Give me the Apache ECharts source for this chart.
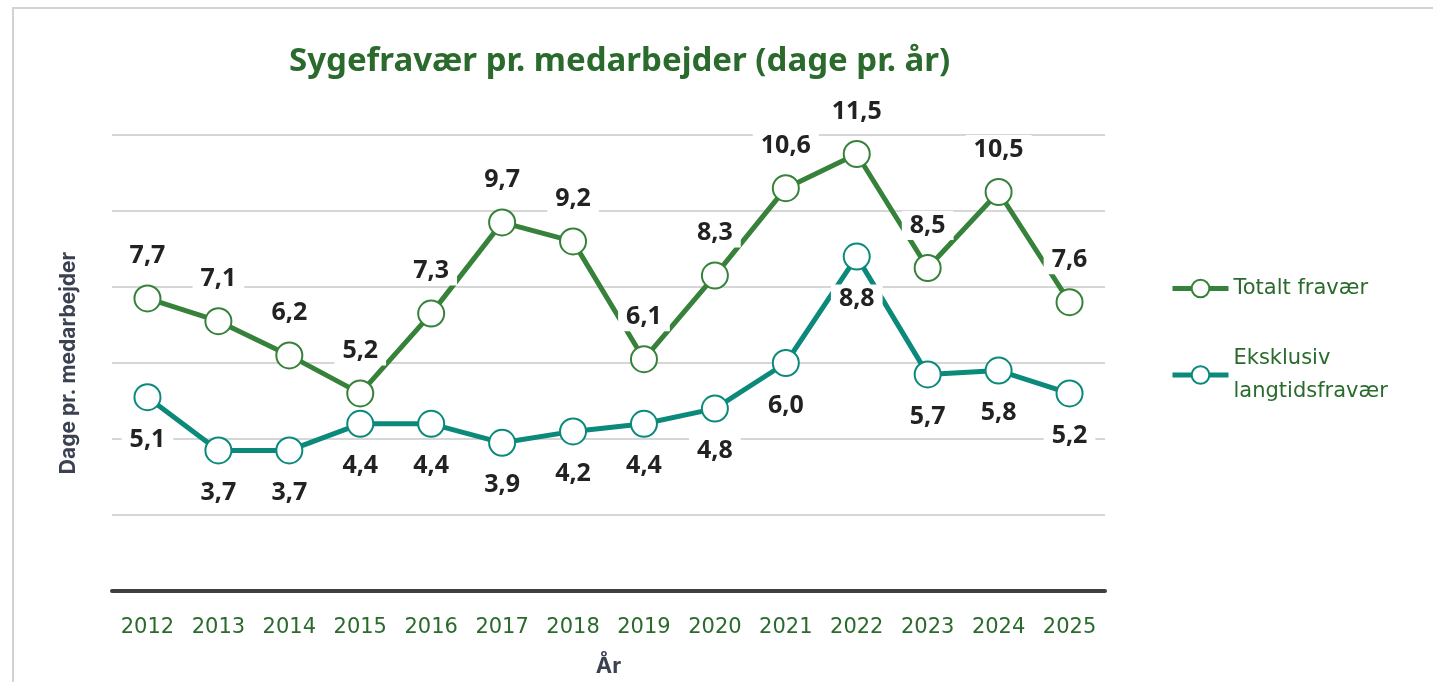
<!DOCTYPE html>
<html>
<head>
<meta charset="utf-8">
<script src="https://cdn.jsdelivr.net/npm/echarts@6/dist/echarts.min.js"></script>
<style>
  html, body { margin: 0; padding: 0; background: #fff; }
  #chart { width: 1433px; height: 682px; }
</style>
</head>
<body>
<div id="chart"></div>
<script>
const years = ['2012', '2013', '2014', '2015', '2016', '2017', '2018', '2019', '2020', '2021', '2022', '2023', '2024', '2025'];
const totalt = [7.7, 7.1, 6.2, 5.2, 7.3, 9.7, 9.2, 6.1, 8.3, 10.6, 11.5, 8.5, 10.5, 7.6];
const eksklusiv = [5.1, 3.7, 3.7, 4.4, 4.4, 3.9, 4.2, 4.4, 4.8, 6.0, 8.8, 5.7, 5.8, 5.2];

const green = '#37823a';
const teal = '#0b8a7c';
const darkGreen = '#2a6a2c';

const chart = echarts.init(document.getElementById('chart'));

// labels: comma decimals, white box behind the text
function label(pos) {
  return {
    show: true,
    position: pos,
    distance: 14,
    formatter: p => p.value.toFixed(1).replace('.', ','),
    color: '#222',
    fontFamily: 'Open Sans',
    fontWeight: 'bold',
    fontSize: 25,
    backgroundColor: '#fff',
    padding: [2, 8]
  };
}

const option = {
  animation: false,
  title: {
    text: 'Sygefravær pr. medarbejder (dage pr. år)',
    left: 284,
    top: 40,
    textStyle: { color: darkGreen, fontFamily: 'Noto Sans', fontWeight: 'bold', fontSize: 33 }
  },
  graphic: [{
    type: 'rect',
    shape: { x: 13, y: 8, width: 1500, height: 720 },
    style: { fill: 'none', stroke: '#d2d2d2', lineWidth: 2 },
    silent: true
  }],
  legend: {
    orient: 'vertical',
    left: 1165,
    top: 267,
    itemWidth: 56,
    itemHeight: 22,
    itemGap: 37,
    lineStyle: { width: 5 },
    textStyle: { color: darkGreen, fontFamily: 'DejaVu Sans', fontSize: 21, lineHeight: 33 },
    data: ['Totalt fravær', 'Eksklusiv\nlangtidsfravær']
  },
  grid: { left: 112, right: 328, top: 135, bottom: 91, outerBoundsMode: 'none' },
  xAxis: {
    type: 'category',
    data: years,
    name: 'År',
    nameLocation: 'middle',
    nameGap: 64,
    nameTextStyle: { color: '#3a4252', fontFamily: 'Inter', fontWeight: 'bold', fontSize: 22 },
    axisLine: { lineStyle: { color: '#404040', width: 4 } },
    axisTick: { show: false },
    axisLabel: { color: darkGreen, fontFamily: 'DejaVu Sans', fontSize: 21, margin: 26 }
  },
  yAxis: {
    type: 'value',
    min: 0,
    max: 12,
    interval: 2,
    name: 'Dage pr. medarbejder',
    nameLocation: 'middle',
    nameGap: 33,
    nameTextStyle: { color: '#3a4252', fontFamily: 'Inter', fontWeight: 'bold', fontSize: 21 },
    axisLabel: { show: false },
    axisLine: { show: false },
    axisTick: { show: false },
    splitLine: { lineStyle: { color: '#c8c8c8', width: 1.5 } }
  },
  series: [
    {
      name: 'Totalt fravær',
      type: 'line',
      data: totalt,
      symbol: 'circle',
      symbolSize: 26,
      lineStyle: { color: green, width: 5 },
      itemStyle: { color: '#fff', borderColor: green, borderWidth: 2 },
      label: label('top'),
      z: 3
    },
    {
      name: 'Eksklusiv\nlangtidsfravær',
      type: 'line',
      data: eksklusiv,
      symbol: 'circle',
      symbolSize: 26,
      lineStyle: { color: teal, width: 5 },
      itemStyle: { color: '#fff', borderColor: teal, borderWidth: 2 },
      label: label('bottom'),
      z: 2
    }
  ]
};

chart.setOption(option);
</script>
</body>
</html>
